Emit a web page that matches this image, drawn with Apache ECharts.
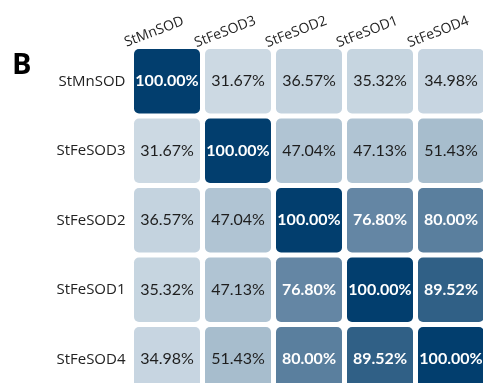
<!DOCTYPE html>
<html>
<head>
<meta charset="utf-8">
<script src="https://cdn.jsdelivr.net/npm/echarts@6/dist/echarts.min.js"></script>
<style>
  html, body { margin: 0; padding: 0; background: #fff; }
  #chart { width: 483px; height: 383px; }
</style>
</head>
<body>
<div id="chart"></div>
<script>
// Pairwise sequence identity between SOD proteins (percent)
const genes = ['StMnSOD', 'StFeSOD3', 'StFeSOD2', 'StFeSOD1', 'StFeSOD4'];
const rowStMnSOD  = [100.00, 31.67, 36.57, 35.32, 34.98];
const rowStFeSOD3 = [31.67, 100.00, 47.04, 47.13, 51.43];
const rowStFeSOD2 = [36.57, 47.04, 100.00, 76.80, 80.00];
const rowStFeSOD1 = [35.32, 47.13, 76.80, 100.00, 89.52];
const rowStFeSOD4 = [34.98, 51.43, 80.00, 89.52, 100.00];
const rows = [rowStMnSOD, rowStFeSOD3, rowStFeSOD2, rowStFeSOD1, rowStFeSOD4];

// [column index, row index, identity]
const cells = [];
rows.forEach((row, r) => row.forEach((v, c) => cells.push([c, r, v])));

const chart = echarts.init(document.getElementById('chart'), null, { renderer: 'canvas' });

const GAP = 5;

chart.setOption({
  backgroundColor: '#ffffff',
  animation: false,
  grid: { left: 131.5, top: 46.5, width: 355, height: 347.5, outerBoundsMode: 'none', containLabel: false },
  xAxis: {
    type: 'category',
    data: genes,
    position: 'top',
    axisLine: { show: false },
    axisTick: { show: false },
    splitLine: { show: false },
    axisLabel: {
      rotate: -21,
      align: 'center',
      verticalAlign: 'bottom',
      margin: 12,
      padding: [0, 22, 0, 0],
      fontFamily: 'Open Sans',
      fontSize: 14,
      color: '#222222',
      interval: 0
    }
  },
  yAxis: {
    type: 'category',
    data: genes,
    inverse: true,
    axisLine: { show: false },
    axisTick: { show: false },
    splitLine: { show: false },
    axisLabel: {
      margin: 6,
      fontFamily: 'Open Sans',
      fontSize: 15,
      color: '#222222',
      interval: 0
    }
  },
  visualMap: {
    show: false,
    type: 'continuous',
    dimension: 2,
    min: 30,
    max: 100,
    inRange: {
      color: ['#cfdbe5', '#bfcfdc', '#aabfcf', '#93aec3', '#7896b1', '#5a7f9e', '#2e5e85', '#023e6e']
    }
  },
  graphic: [{
    type: 'text',
    left: 12,
    top: 51,
    style: {
      text: 'B',
      font: 'bold 29px "Open Sans"',
      fill: '#000'
    }
  }],
  series: [{
    type: 'custom',
    data: cells,
    encode: { x: 0, y: 1 },
    renderItem: function (params, api) {
      const v = api.value(2);
      const p = api.coord([api.value(0), api.value(1)]);
      const size = api.size([1, 1]);
      const w = size[0] - GAP, h = size[1] - GAP;
      const light = v >= 70;
      return {
        type: 'rect',
        shape: { x: p[0] - w / 2, y: p[1] - h / 2, width: w, height: h, r: 5 },
        style: { fill: api.visual('color') },
        textContent: {
          style: {
            text: v.toFixed(2) + '%',
            fill: light ? '#ffffff' : '#1e1e1e',
            font: (light ? 'bold ' : '') + '16px Lato'
          }
        },
        textConfig: { position: 'inside' }
      };
    }
  }]
});
</script>
</body>
</html>
